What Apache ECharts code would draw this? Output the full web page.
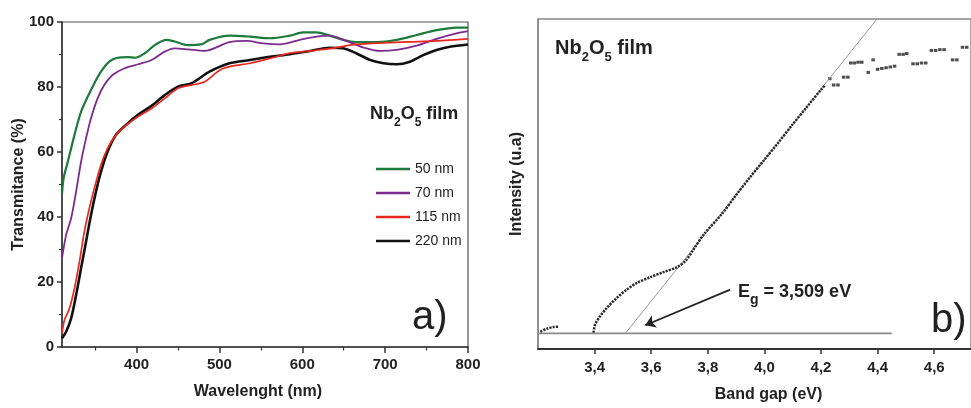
<!DOCTYPE html>
<html>
<head>
<meta charset="utf-8">
<script src="https://cdn.jsdelivr.net/npm/echarts@6/dist/echarts.min.js"></script>
<style>
html, body { margin: 0; padding: 0; background: #fff; }
#main { width: 971px; height: 408px; }
</style>
</head>
<body>
<div id="main"></div>
<script>
// panel a) transmittance spectra
var wl50 = [310, 312, 317, 325, 333, 341, 349, 357, 367, 377, 390, 398, 410, 422, 436, 446, 462, 478, 488, 512, 537, 561, 585, 601, 617, 633, 649, 665, 690, 714, 738, 762, 786, 800];
var t50 = [47, 52, 57, 65.2, 72.4, 77, 81.1, 84.7, 87.8, 89, 89.2, 89, 90.4, 92.9, 94.5, 94, 92.9, 93.1, 94.5, 95.8, 95.5, 95, 95.8, 96.8, 96.8, 95.8, 94.5, 93.8, 93.8, 94.5, 96, 97.5, 98.3, 98.3];

var wl70 = [310, 315, 321, 327, 333, 339, 345, 353, 361, 371, 385, 402, 418, 434, 446, 462, 482, 512, 533, 553, 573, 597, 617, 633, 653, 673, 694, 714, 738, 762, 786, 800];
var t70 = [27.3, 34.5, 39.6, 47.8, 57, 64.2, 70.4, 76.5, 80.6, 83.7, 85.7, 87, 88.3, 90.9, 91.9, 91.6, 91.1, 93.8, 94.2, 93.4, 93.1, 94.5, 95.5, 95.8, 94.2, 92.2, 91.1, 91.4, 92.7, 94.8, 96.5, 97.2];

var wl115 = [310, 313, 319, 325, 331, 337, 343, 349, 357, 365, 375, 388, 402, 418, 434, 450, 466, 482, 504, 537, 561, 585, 609, 633, 665, 698, 730, 762, 800];
var t115 = [4.2, 8.3, 11.9, 18, 26.2, 35.5, 42.7, 48.8, 56, 61.1, 65.2, 68.3, 70.9, 73.4, 76.5, 79.6, 80.6, 81.6, 85.7, 87.3, 88.8, 90.4, 91.1, 91.8, 93.1, 93.6, 93.9, 94.2, 94.8];

var wl220 = [310, 315, 321, 327, 333, 339, 345, 351, 357, 365, 375, 388, 402, 418, 434, 450, 466, 488, 512, 537, 561, 585, 609, 633, 649, 665, 682, 698, 714, 730, 746, 762, 778, 800];
var t220 = [2.7, 4.7, 8.8, 16, 24.2, 32.4, 40.6, 47.8, 53.9, 60.1, 65.2, 68.5, 71.5, 74.2, 77.5, 80.1, 81.1, 84.7, 87.3, 88.3, 89.3, 90.1, 91.1, 92.1, 91.9, 90.4, 88.3, 87.3, 87, 87.8, 89.8, 91.4, 92.4, 93.1];

var wlMajor = [400, 500, 600, 700, 800];
var wlMinor = [350, 450, 550, 650, 750];

// panel b) band gap plot
var tailX = [3.208, 3.232, 3.255, 3.273];
var tailY = [0.1, 0.3, 0.4, 0.42];
var curveX = [3.396, 3.402, 3.42, 3.444, 3.479, 3.514, 3.55, 3.596, 3.643, 3.69, 3.72, 3.749, 3.785, 3.85, 3.9, 3.95, 4.0, 4.05, 4.1, 4.15, 4.2, 4.215];
var curveY = [0.04, 0.57, 1.1, 1.63, 2.26, 2.79, 3.21, 3.57, 3.89, 4.2, 4.58, 5.32, 6.27, 7.6, 8.8, 9.95, 11.05, 12.15, 13.3, 14.4, 15.5, 15.8];
var dotsX = [4.231, 4.245, 4.26, 4.28, 4.295, 4.305, 4.318, 4.331, 4.344, 4.384, 4.367, 4.40, 4.415, 4.43, 4.445, 4.46, 4.476, 4.49, 4.503, 4.525, 4.54, 4.555, 4.57, 4.59, 4.605, 4.62, 4.635, 4.665, 4.68, 4.70, 4.715];
var dotsY = [16.2, 15.8, 15.8, 16.3, 16.3, 17.2, 17.2, 17.25, 17.25, 17.4, 16.6, 16.8, 16.85, 16.9, 16.95, 17.0, 17.75, 17.75, 17.8, 17.15, 17.15, 17.2, 17.2, 18.0, 18.0, 18.05, 18.05, 17.4, 17.4, 18.2, 18.2];
var fitX = [3.509, 4.398];
var fitY = [0, 20];
var baseX = [3.2, 4.45];
var baseY = [0, 0];
var arrowFrom = [3.879, 2.78];
var arrowTo = [3.579, 0.51];
var egMajor = [3.4, 3.6, 3.8, 4.0, 4.2, 4.4, 4.6];

var FONT = "'Liberation Sans', Arial, sans-serif";
var TXT = '#222';

function pairs(xs, ys) {
    var res = [];
    for (var i = 0; i < xs.length; i++) {
        res.push([xs[i], ys[i]]);
    }
    return res;
}

function specLine(name, xs, ys, color, width) {
    return {
        name: name,
        type: 'line',
        xAxisIndex: 0,
        yAxisIndex: 0,
        data: pairs(xs, ys),
        showSymbol: false,
        smooth: 0.3,
        lineStyle: { color: color, width: width },
        itemStyle: { color: color }
    };
}

var chart = echarts.init(document.getElementById('main'));

var option = {
    animation: false,
    backgroundColor: '#fff',
    textStyle: { fontFamily: FONT },
    grid: [
        { left: 62, top: 22, width: 406, height: 325, show: true, borderColor: '#555', borderWidth: 1.2 },
        { left: 538, top: 19, width: 434, height: 333, show: true, borderColor: '#888', borderWidth: 1.5 }
    ],
    legend: {
        data: ['50 nm', '70 nm', '115 nm', '220 nm'],
        orient: 'vertical',
        left: 371,
        top: 157,
        icon: 'rect',
        itemWidth: 34,
        itemHeight: 2.5,
        itemGap: 10,
        textStyle: { fontSize: 14, color: TXT, fontFamily: FONT }
    },
    xAxis: [
        {
            gridIndex: 0, type: 'value', min: 310, max: 800, position: 'bottom',
            axisLine: { onZero: false, lineStyle: { color: '#333', width: 1.5 } },
            axisTick: { customValues: wlMajor, length: 6, lineStyle: { color: '#333', width: 1.5 } },
            axisLabel: { customValues: wlMajor, fontSize: 15, fontWeight: 'bold', color: TXT, margin: 10, fontFamily: FONT },
            splitLine: { show: false },
            name: 'Wavelenght (nm)', nameLocation: 'middle', nameGap: 37, nameMoveOverlap: false,
            nameTextStyle: { fontSize: 16, fontWeight: 'bold', color: TXT, padding: [0, 14, 0, 0], fontFamily: FONT }
        },
        {
            gridIndex: 0, type: 'value', min: 310, max: 800, position: 'bottom',
            axisLine: { show: false, onZero: false },
            axisTick: { customValues: wlMinor, length: 3.5, lineStyle: { color: '#333', width: 1.2 } },
            axisLabel: { show: false },
            splitLine: { show: false }
        },
        {
            gridIndex: 1, type: 'value', min: 3.2, max: 4.73, position: 'bottom',
            axisLine: { onZero: false, lineStyle: { color: '#333', width: 2 } },
            axisTick: { customValues: egMajor, length: 5, lineStyle: { color: '#333', width: 1.5 } },
            axisLabel: {
                customValues: egMajor, fontSize: 15, fontWeight: 'bold', color: TXT, margin: 11, fontFamily: FONT,
                formatter: function (v) { return v.toFixed(1).replace('.', ','); }
            },
            splitLine: { show: false },
            name: 'Band gap (eV)', nameLocation: 'middle', nameGap: 38, nameMoveOverlap: false,
            nameTextStyle: { fontSize: 16, fontWeight: 'bold', color: TXT, padding: [0, 0, 0, 28], fontFamily: FONT }
        }
    ],
    yAxis: [
        {
            gridIndex: 0, type: 'value', min: 0, max: 100, interval: 20,
            axisLine: { show: true, onZero: false, lineStyle: { color: '#333', width: 1.5 } },
            axisTick: { show: true, length: 5, lineStyle: { color: '#333', width: 1.5 } },
            minorTick: { show: true, splitNumber: 2, length: 3, lineStyle: { color: '#333', width: 1.2 } },
            axisLabel: { fontSize: 15, fontWeight: 'bold', color: TXT, margin: 8, fontFamily: FONT },
            splitLine: { show: false },
            name: 'Transmitance (%)', nameLocation: 'middle', nameGap: 35, nameMoveOverlap: false,
            nameTextStyle: { fontSize: 16, fontWeight: 'bold', color: TXT, fontFamily: FONT }
        },
        {
            gridIndex: 1, type: 'value', min: -1, max: 20,
            axisLine: { show: true, onZero: false, lineStyle: { color: '#888', width: 1.5 } },
            axisTick: { show: false },
            axisLabel: { show: false },
            splitLine: { show: false },
            name: 'Intensity (u.a)', nameLocation: 'middle', nameGap: 13,
            nameTextStyle: { fontSize: 16, fontWeight: 'bold', color: TXT, fontFamily: FONT }
        }
    ],
    series: [
        specLine('50 nm', wl50, t50, '#1d7a3b', 2.2),
        specLine('70 nm', wl70, t70, '#7d2b8e', 1.8),
        specLine('220 nm', wl220, t220, '#111111', 2.6),
        specLine('115 nm', wl115, t115, '#e8281f', 1.7),
        {
            name: 'baseline', type: 'line', xAxisIndex: 2, yAxisIndex: 1,
            data: pairs(baseX, baseY), showSymbol: false,
            lineStyle: { color: '#8a8a8a', width: 1.8 }
        },
        {
            name: 'fit', type: 'line', xAxisIndex: 2, yAxisIndex: 1,
            data: pairs(fitX, fitY), showSymbol: false,
            lineStyle: { color: '#9a9a9a', width: 1 },
            markLine: {
                silent: true,
                symbol: ['none', 'arrow'],
                symbolSize: 10,
                label: { show: false },
                lineStyle: { color: '#222', width: 1.8, type: 'solid' },
                data: [[{ coord: arrowFrom }, { coord: arrowTo }]]
            }
        },
        {
            name: 'tail', type: 'line', xAxisIndex: 2, yAxisIndex: 1,
            data: pairs(tailX, tailY), showSymbol: false, smooth: 0.3,
            lineStyle: { color: '#2a2a2a', width: 2.5, type: [2.2, 1.1] }
        },
        {
            name: 'tauc', type: 'line', xAxisIndex: 2, yAxisIndex: 1,
            data: pairs(curveX, curveY), showSymbol: false, smooth: 0.3,
            lineStyle: { color: '#2a2a2a', width: 2.5, type: [2.2, 1.1] }
        },
        {
            name: 'scatter', type: 'scatter', xAxisIndex: 2, yAxisIndex: 1,
            data: pairs(dotsX, dotsY), symbol: 'rect', symbolSize: [3.5, 3],
            itemStyle: { color: '#222' }
        }
    ],
    graphic: [
        {
            type: 'text', x: 370, y: 117,
            style: {
                text: '{b|Nb}{s|2}{b|O}{s|5}{b| film}',
                verticalAlign: 'middle', align: 'left',
                rich: {
                    b: { fontSize: 18, fontWeight: 'bold', fill: TXT, fontFamily: FONT, lineHeight: 24, verticalAlign: 'top' },
                    s: { fontSize: 12, fontWeight: 'bold', fill: TXT, fontFamily: FONT, lineHeight: 12, verticalAlign: 'bottom' }
                }
            }
        },
        {
            type: 'text', x: 412, y: 318,
            style: { text: 'a)', fontSize: 40, fontFamily: FONT, fill: TXT, verticalAlign: 'middle', align: 'left' }
        },
        {
            type: 'text', x: 555, y: 51,
            style: {
                text: '{b|Nb}{s|2}{b|O}{s|5}{b| film}',
                verticalAlign: 'middle', align: 'left',
                rich: {
                    b: { fontSize: 20, fontWeight: 'bold', fill: TXT, fontFamily: FONT, lineHeight: 26, verticalAlign: 'top' },
                    s: { fontSize: 13, fontWeight: 'bold', fill: TXT, fontFamily: FONT, lineHeight: 13, verticalAlign: 'bottom' }
                }
            }
        },
        {
            type: 'text', x: 738, y: 295,
            style: {
                text: '{b|E}{s|g}{b| = 3,509 eV}',
                verticalAlign: 'middle', align: 'left',
                rich: {
                    b: { fontSize: 18, fontWeight: 'bold', fill: TXT, fontFamily: FONT, lineHeight: 24, verticalAlign: 'top' },
                    s: { fontSize: 14, fontWeight: 'bold', fill: TXT, fontFamily: FONT, lineHeight: 12, verticalAlign: 'bottom' }
                }
            }
        },
        {
            type: 'text', x: 931, y: 321,
            style: { text: 'b)', fontSize: 40, fontFamily: FONT, fill: TXT, verticalAlign: 'middle', align: 'left' }
        }
    ]
};

chart.setOption(option);
</script>
</body>
</html>
